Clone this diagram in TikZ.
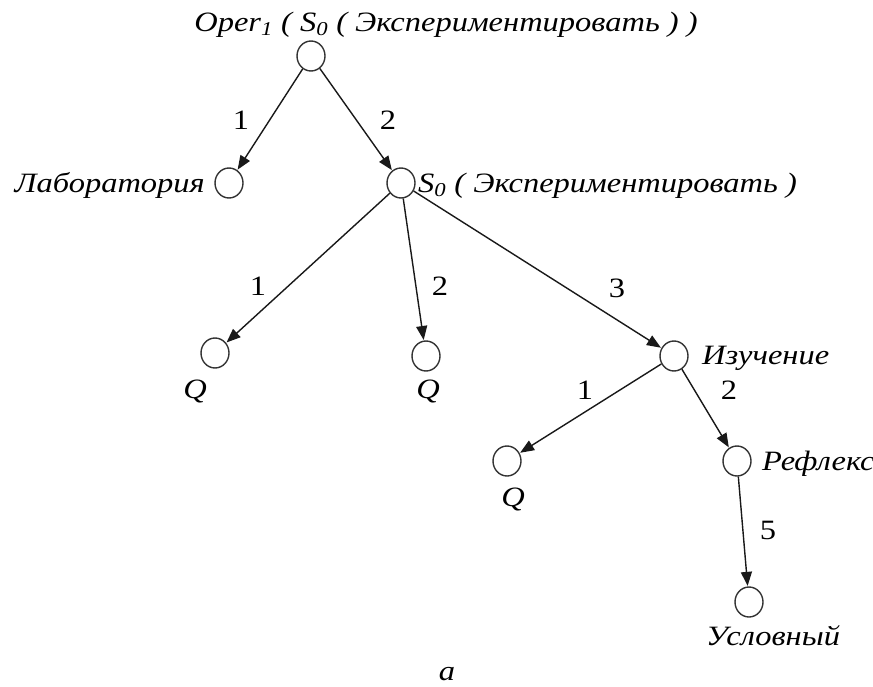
\documentclass[tikz,border=0pt]{standalone}
\usepackage{fontspec}
\setmainfont[FakeStretch=1.16]{Liberation Serif}
\usetikzlibrary{arrows.meta,shapes.geometric}
\begin{document}
\begin{tikzpicture}[x=1pt,y=-1pt,
  vert/.style={ellipse,draw=black!80,line width=1.4pt,minimum width=28pt,minimum height=30pt,inner sep=0pt},
  edge/.style={line width=1.4pt,draw=black!90,-{Triangle[length=14pt,width=11pt]},shorten >=0.5pt},
  lab/.style={font=\fontsize{28}{32}\selectfont\itshape,inner sep=0pt},
  num/.style={font=\fontsize{28}{32}\selectfont,inner sep=0pt}]
\useasboundingbox (0,0) rectangle (873,686);
% vertices
\node[vert] (root) at (311,56) {};
\node[vert] (lab) at (229,183) {};
\node[vert] (s0) at (401,183) {};
\node[vert] (q1) at (215,353) {};
\node[vert] (q2) at (426,356) {};
\node[vert] (izu) at (674,356) {};
\node[vert] (q3) at (507,461) {};
\node[vert] (ref) at (737,461) {};
\node[vert] (usl) at (749,602) {};
% texts
\node[lab,anchor=base] (troot) at (446,31) {Oper\textsubscript{1} ( S\textsubscript{0} ( Экспериментировать ) )};
\node[lab,anchor=base east] (tlab) at (205,192) {Лаборатория};
\node[lab,anchor=base west] (ts0) at (418,192) {S\textsubscript{0} ( Экспериментировать )};
\node[lab,anchor=base] (tq1) at (195,398) {Q};
\node[lab,anchor=base] (tq2) at (428,398) {Q};
\node[lab,anchor=base] (tq3) at (513,506) {Q};
\node[lab,anchor=base west] (tizu) at (702,364) {Изучение};
\node[lab,anchor=base west] (tref) at (762,470) {Рефлекс};
\node[lab,anchor=base] (tusl) at (773,645) {Условный};
\node[lab,anchor=base] (cap) at (447,680) {a};
% edges
\draw[edge] (root) -- (lab);
\draw[edge] (root) -- (s0);
\draw[edge] (s0) -- (q1);
\draw[edge] (s0) -- (q2);
\draw[edge] (s0) -- (izu);
\draw[edge] (izu) -- (q3);
\draw[edge] (izu) -- (ref);
\draw[edge] (ref) -- (usl);
% edge labels
\node[num] (n1) at (241,120) {1};
\node[num] (n2) at (388,120) {2};
\node[num] (n3) at (258,286) {1};
\node[num] (n4) at (440,286) {2};
\node[num] (n5) at (617,288) {3};
\node[num] (n6) at (585,390) {1};
\node[num] (n7) at (729,390) {2};
\node[num] (n8) at (768,530) {5};
\end{tikzpicture}
\end{document}
